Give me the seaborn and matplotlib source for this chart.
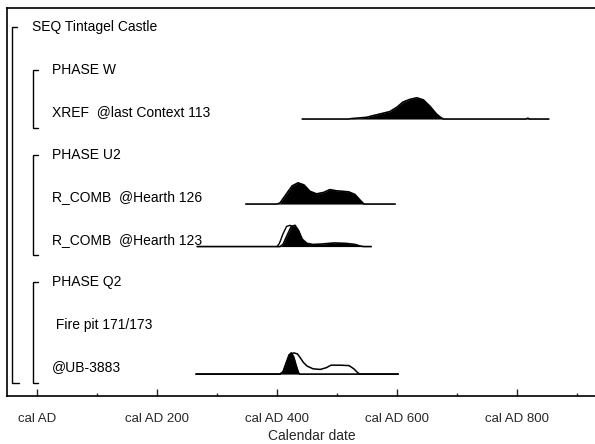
import numpy as np
import matplotlib
matplotlib.use("Agg")
import matplotlib.pyplot as plt
import seaborn as sns

# row labels, top to bottom
labels = ["SEQ Tintagel Castle", "PHASE W", "XREF  @last Context 113", "PHASE U2",
          "R_COMB  @Hearth 126", "R_COMB  @Hearth 123", "PHASE Q2",
          " Fire pit 171/173", "@UB-3883"]
label_indent = [0, 1, 2, 1, 2, 2, 1, 2, 2]

# calendar axis
major_ticks = [0, 200, 400, 600, 800]
major_labels = ["cal AD", "cal AD 200", "cal AD 400", "cal AD 600", "cal AD 800"]
minor_ticks = [100, 300, 500, 700, 900]

# relative probability (peak = 1)
xref_years = [442, 520, 524, 549, 566, 588, 600, 610, 621, 633, 644, 655, 666, 674, 678, 815, 818, 821, 853]
xref_prob = [0, 0, 0.02, 0.08, 0.2, 0.35, 0.56, 0.8, 0.92, 1.0, 0.9, 0.6, 0.23, 0.05, 0, 0, 0.04, 0, 0]

h126_years = [348, 400, 405, 415, 425, 435, 445, 455, 466, 478, 488, 500, 510, 520, 530, 538, 545, 597]
h126_prob = [0, 0, 0.05, 0.45, 0.85, 1.0, 0.9, 0.6, 0.48, 0.55, 0.68, 0.62, 0.6, 0.57, 0.45, 0.2, 0, 0]

h123_years = [267, 405, 410, 418, 424, 430, 436, 442, 450, 460, 475, 495, 515, 530, 538, 545, 557]
h123_prob = [0, 0, 0.1, 0.6, 0.95, 1.0, 0.75, 0.35, 0.15, 0.1, 0.12, 0.17, 0.15, 0.1, 0.03, 0, 0]
h123_prior_years = [400, 404, 410, 416, 422, 428, 434, 440, 450]
h123_prior_prob = [0, 0.15, 0.6, 0.95, 1.0, 0.9, 0.55, 0.25, 0.12]

ub_years = [265, 405, 410, 415, 420, 424, 428, 432, 436, 438, 602]
ub_prob = [0, 0, 0.1, 0.5, 0.9, 1.0, 0.8, 0.4, 0.05, 0, 0]
ub_prior_years = [265, 405, 410, 416, 422, 428, 434, 438, 444, 450, 460, 472, 482, 490, 505, 520, 528, 534, 538, 602]
ub_prior_prob = [0, 0, 0.1, 0.55, 0.92, 1.0, 0.95, 0.8, 0.55, 0.38, 0.25, 0.22, 0.3, 0.42, 0.42, 0.4, 0.25, 0.08, 0, 0]

sns.set_style("white")
plt.rcParams['font.family'] = ['Liberation Sans', 'DejaVu Sans']

fig = plt.figure(figsize=(5.95, 4.44), dpi=100)
ax = fig.add_axes([7 / 595, 1 - 396 / 444, 588 / 595, 388 / 444])

ax.set_xlim(-50, 930)
ax.set_ylim(8.68, -0.447)

base_off = 0.165   # baseline sits a little under the label
height = 0.5       # peak height in row units


def draw_dist(row, years, prob, fill=True, lw=1.2):
    yrs = np.array(years, dtype=float)
    y = row + base_off - height * np.array(prob)
    if fill:
        ax.fill_between(yrs, row + base_off, y, color="black", lw=0, zorder=3)
    sns.lineplot(x=yrs, y=y, ax=ax, color="black", lw=lw, sort=False, zorder=4,
                 estimator=None)


draw_dist(2, xref_years, xref_prob)
draw_dist(4, h126_years, h126_prob)
# Hearth 123: unmodelled outline behind modelled fill
p_yrs = np.array(h123_prior_years, dtype=float)
p_y = 5 + base_off - height * np.array(h123_prior_prob)
ax.fill_between(p_yrs, 5 + base_off, p_y, color="white", lw=0, zorder=2)
sns.lineplot(x=p_yrs, y=p_y, ax=ax, color="black", lw=1.0, sort=False, zorder=2, estimator=None)
draw_dist(5, h123_years, h123_prob)
# UB-3883: unmodelled outline plus modelled fill
draw_dist(8, ub_prior_years, ub_prior_prob, fill=False, lw=1.1)
draw_dist(8, ub_years, ub_prob)

# labels
indent_x = {0: 32, 1: 52, 2: 52}
for i, (lab, ind) in enumerate(zip(labels, label_indent)):
    ax.text((indent_x[ind] - 7) / 588, i, lab, transform=ax.get_yaxis_transform(),
            ha="left", va="center", fontsize=10, color="black")

# brackets
tr = ax.get_yaxis_transform()


def bracket(xpx, top, bottom, top_len=5, bot_len=7):
    x0 = (xpx - 7) / 588
    ax.plot([x0 + top_len / 588, x0, x0, x0 + bot_len / 588], [top, top, bottom, bottom],
            transform=tr, color="black", lw=1.0, clip_on=False, solid_joinstyle="miter")


bracket(12, 0, 8.38)
bracket(33, 1, 2.38, 5, 5)
bracket(33, 3, 5.36, 5, 5)
bracket(33, 6, 8.38, 5, 5)

# axis
ax.set_xticks(major_ticks)
ax.set_xticklabels(major_labels, fontsize=9.5)
ax.set_xticks(minor_ticks, minor=True)
ax.tick_params(axis="x", which="major", direction="in", length=5, width=1.0, pad=12, bottom=True)
ax.tick_params(axis="x", which="minor", direction="in", length=2.5, width=1.0, bottom=True)
ax.set_yticks([])
ax.set_xlabel("Calendar date", fontsize=10, va="center")
ax.xaxis.set_label_coords((312 - 7) / 588, (396 - 436) / 388)

for side in ["left", "top", "bottom"]:
    ax.spines[side].set_visible(True)
    ax.spines[side].set_color("black")
    ax.spines[side].set_linewidth(1.2)
ax.spines["right"].set_visible(False)

fig.savefig("out.png", dpi=100)
